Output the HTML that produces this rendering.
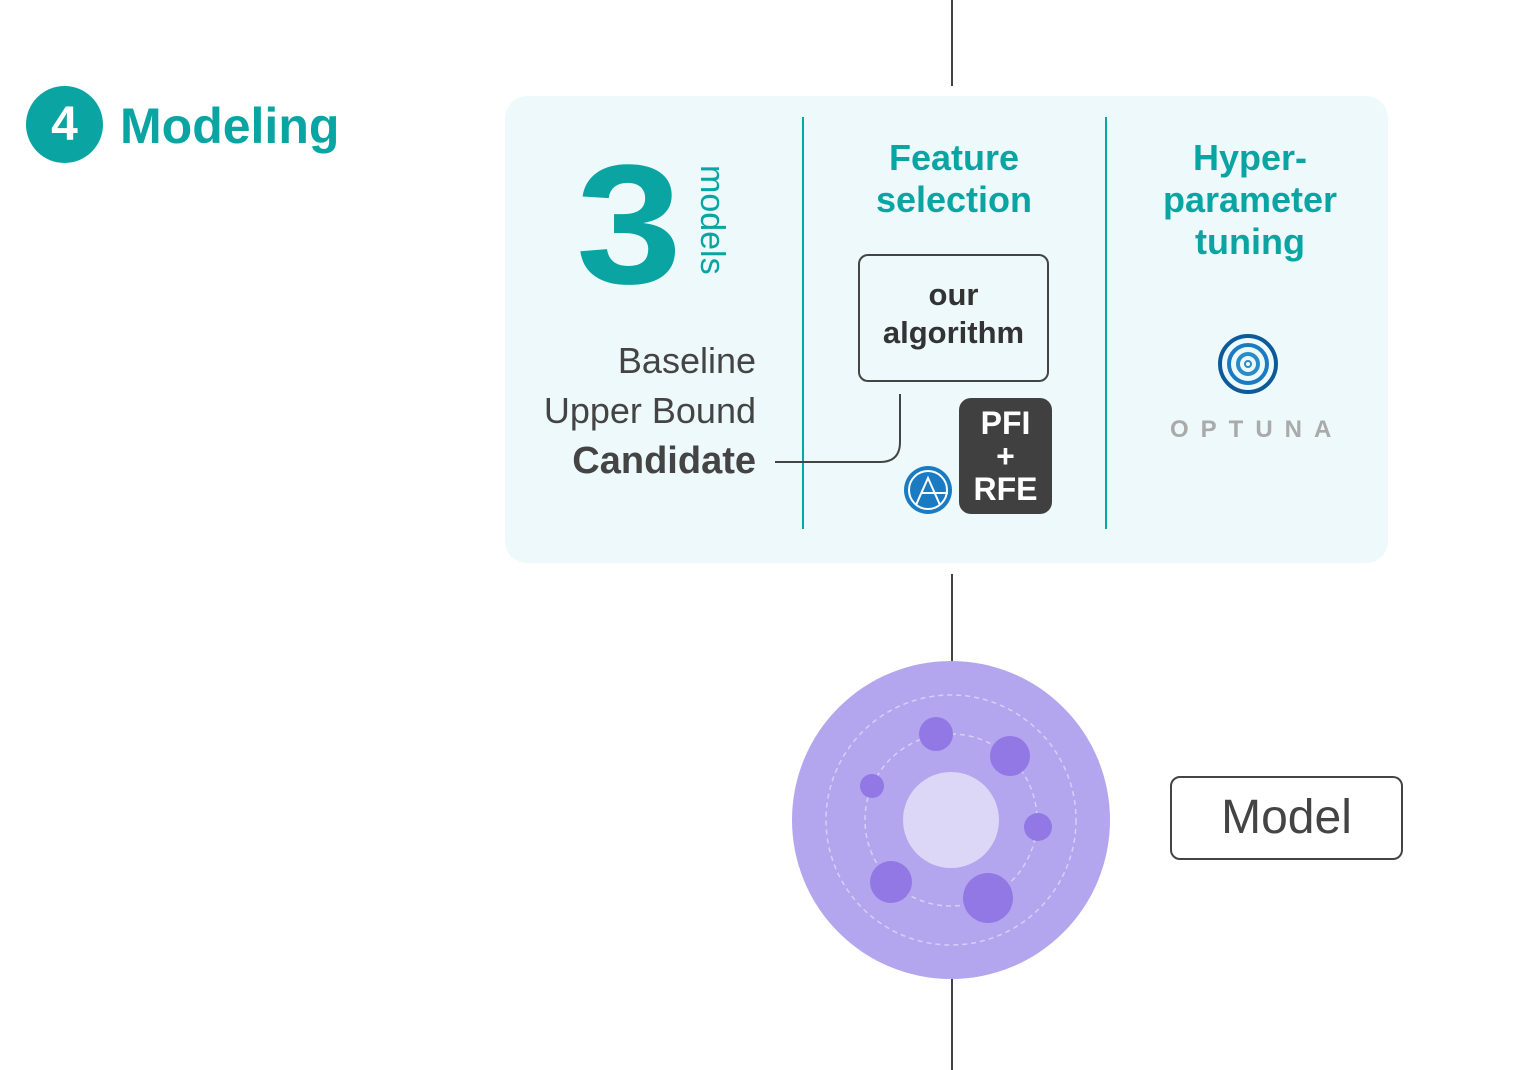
<!DOCTYPE html>
<html><head><style>
body{margin:0;width:1540px;height:1070px;background:#fff;position:relative;overflow:hidden;font-family:"Liberation Sans",sans-serif}
.a{position:absolute}
.t{color:#0aa5a3;font-weight:bold;text-align:center}
</style></head><body>
<div class="a" style="left:951px;top:0;width:2px;height:86px;background:#444"></div>
<div class="a" style="left:951px;top:574px;width:2px;height:90px;background:#444"></div>
<div class="a" style="left:951px;top:978px;width:2px;height:92px;background:#444"></div>
<div class="a" style="left:26px;top:86px;width:77px;height:77px;border-radius:50%;background:#0aa5a3;color:#fff;font-weight:bold;font-size:48px;text-align:center;line-height:77px">4</div>
<div class="a t" style="left:120px;top:96px;font-size:50px;line-height:60px">Modeling</div>
<div class="a" style="left:505px;top:96px;width:883px;height:467px;border-radius:22px;background:#edf9fa"></div>
<div class="a" style="left:802px;top:117px;width:2px;height:412px;background:#0aa5a3"></div>
<div class="a" style="left:1105px;top:117px;width:2px;height:412px;background:#0aa5a3"></div>
<div class="a t" style="left:576px;top:140px;font-size:170px;line-height:170px;transform:scaleX(1.12);transform-origin:0 0">3</div>
<div class="a" style="left:693px;top:165px;width:40px;height:125px"><div style="transform:rotate(90deg);transform-origin:0 0;position:absolute;left:38px;top:0;color:#0aa5a3;font-size:34px;line-height:38px;white-space:nowrap">models</div></div>
<div class="a" style="right:784px;top:336px;text-align:right;font-size:36px;line-height:50px;color:#444">Baseline<br>Upper Bound<br><b style="font-size:38px">Candidate</b></div>
<div class="a t" style="left:854px;top:137px;width:200px;font-size:36px;line-height:42px">Feature<br>selection</div>
<div class="a" style="left:858px;top:254px;width:191px;height:128px;border:2px solid #444;border-radius:10px;text-align:center;font-weight:bold;font-size:31px;line-height:38px;color:#333;box-sizing:border-box;padding-top:20px">our<br>algorithm</div>
<svg class="a" style="left:0;top:0" width="1540" height="1070">
<path d="M775 462 H880 Q900 462 900 442 V394" fill="none" stroke="#444" stroke-width="2"/>
<circle cx="928" cy="490" r="24" fill="#1a7bc2"/><circle cx="928" cy="490" r="19" fill="none" stroke="#fff" stroke-width="2"/>
<path d="M916 505 L928 478 L940 505 M922 493 H948" fill="none" stroke="#fff" stroke-width="2"/>
<circle cx="1248" cy="364" r="28" fill="none" stroke="#0d5a9a" stroke-width="4"/>
<circle cx="1248" cy="364" r="19" fill="none" stroke="#1a7bc2" stroke-width="4"/>
<circle cx="1248" cy="364" r="10" fill="none" stroke="#2a8cc6" stroke-width="4"/>
<circle cx="1248" cy="364" r="3" fill="none" stroke="#2a8cc6" stroke-width="2"/>
<circle cx="951" cy="820" r="159" fill="#b3a6ee"/>
<circle cx="951" cy="820" r="125" fill="none" stroke="#d6d0f6" stroke-width="1.5" stroke-dasharray="5 4"/>
<circle cx="951" cy="820" r="86" fill="none" stroke="#d6d0f6" stroke-width="1.5" stroke-dasharray="5 4"/>
<circle cx="951" cy="820" r="48" fill="#dcd7f6"/>
<g fill="#9178e4"><circle cx="936" cy="734" r="17"/><circle cx="1010" cy="756" r="20"/><circle cx="872" cy="786" r="12"/><circle cx="1038" cy="827" r="14"/><circle cx="891" cy="882" r="21"/><circle cx="988" cy="898" r="25"/></g>
</svg>
<div class="a" style="left:959px;top:398px;width:93px;height:116px;background:#404040;border-radius:12px;color:#fff;font-weight:bold;font-size:32px;line-height:33px;text-align:center;padding-top:9px;box-sizing:border-box">PFI<br>+<br>RFE</div>
<div class="a t" style="left:1150px;top:137px;width:200px;font-size:36px;line-height:42px">Hyper-<br>parameter<br>tuning</div>
<div class="a" style="left:1170px;top:416px;font-size:24px;letter-spacing:12px;color:#aaa;font-weight:bold">OPTUNA</div>
<div class="a" style="left:1170px;top:776px;width:233px;height:84px;border:2px solid #444;border-radius:10px;box-sizing:border-box;text-align:center;font-size:48px;line-height:80px;color:#444">Model</div>
</body></html>
